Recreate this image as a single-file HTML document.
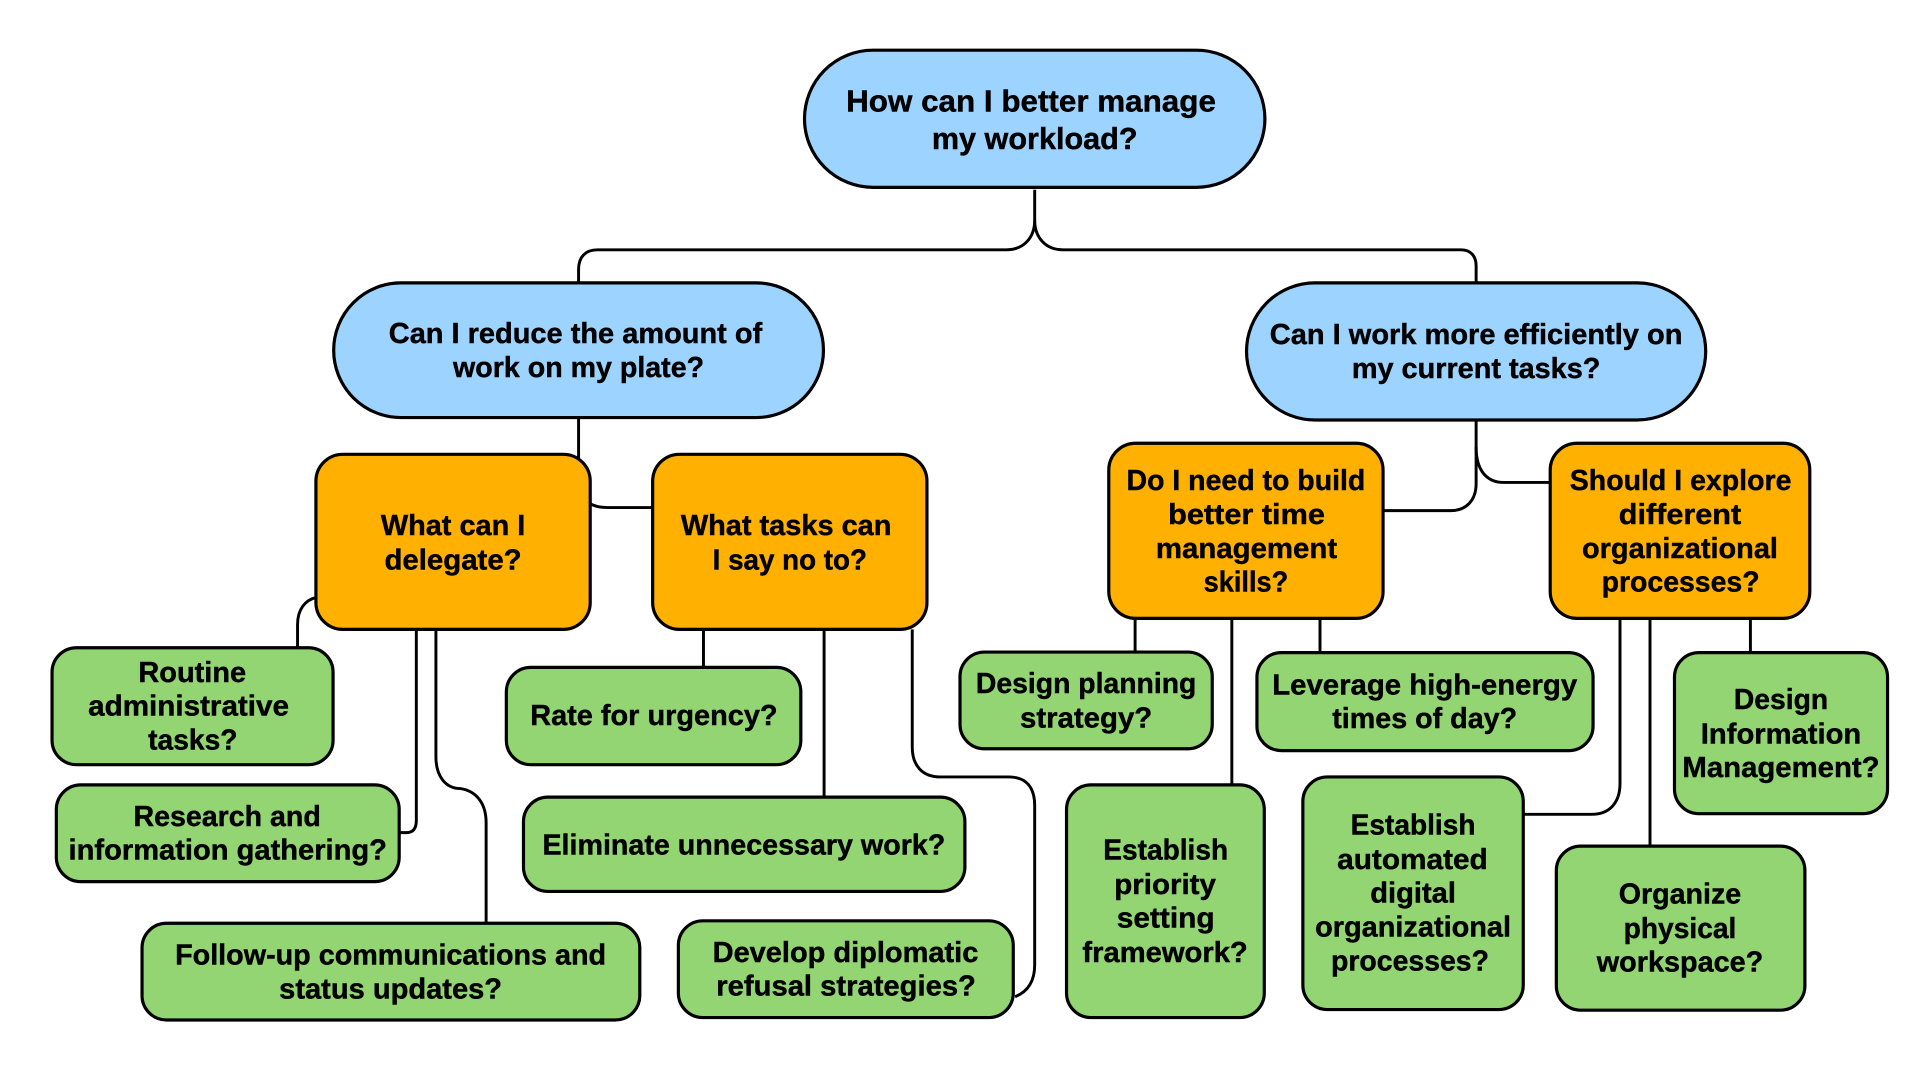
<!DOCTYPE html>
<html><head><meta charset="utf-8"><style>
html,body{margin:0;padding:0;background:#fff;width:1920px;height:1080px;overflow:hidden}
svg{display:block}
text{font-family:"Liberation Sans",sans-serif;font-weight:700;font-size:23.5px;fill:#000;stroke:#000;stroke-width:.35px;letter-spacing:0}
.l{fill:none;stroke:#000;stroke-width:2.4}
.b{fill:#9DD3FF;stroke:#000;stroke-width:2.6}
.o{fill:#FFB000;stroke:#000;stroke-width:2.6}
.g{fill:#93D572;stroke:#000;stroke-width:2.6}
</style></head><body>
<svg width="1920" height="1080" viewBox="0 0 1568 882" xmlns="http://www.w3.org/2000/svg">
<rect width="1568" height="882" fill="#fff"/>
<path class="l" d="M845,155V180C845,194 836,204 822,204H488C478,204 472.500,210 472.500,220V231"/>
<path class="l" d="M845,180C845,194 854,204 868,204H1193C1201,204 1205.500,209 1205.500,217V231"/>
<path class="l" d="M472.500,341V392C472.500,406 480,414.500 496,414.500H533"/>
<path class="l" d="M1205.500,343V395C1205.500,409 1197,417 1185,417H1130"/>
<path class="l" d="M1205.500,365C1205.500,384 1214,394 1228,394H1266"/>
<path class="l" d="M258,488C249,490 243,498 243,510V529"/>
<path class="l" d="M340,515V670C340,677 337,680 332,680H326"/>
<path class="l" d="M356,515V618C356,634 364,644 376,644C389,646 397,656 397,672V754"/>
<path class="l" d="M574.500,514V544"/>
<path class="l" d="M673,514V651"/>
<path class="l" d="M745,514V610C745,625 753,634.500 768,634.500H824C838,634.500 845,643 845,658V788C845,802 839,810 829,814"/>
<path class="l" d="M927,505V532"/>
<path class="l" d="M1006,505V641"/>
<path class="l" d="M1078,505V533"/>
<path class="l" d="M1323,505V640C1323,656 1314,665 1300,665H1244"/>
<path class="l" d="M1347.500,505V691"/>
<path class="l" d="M1429.500,505V533"/>

<rect class="b" x="657" y="41" width="376" height="112" rx="56"/>
<rect class="b" x="272.500" y="231" width="400" height="110" rx="55"/>
<rect class="b" x="1018" y="231" width="375" height="112" rx="56"/>
<rect class="o" x="258" y="371" width="224" height="143" rx="22"/>
<rect class="o" x="533" y="371" width="224" height="143" rx="22"/>
<rect class="o" x="905.500" y="362" width="224" height="143" rx="22"/>
<rect class="o" x="1266" y="362" width="212" height="143" rx="22"/>
<rect class="g" x="42.500" y="529" width="229.500" height="95.500" rx="20"/>
<rect class="g" x="46" y="641" width="280" height="79" rx="20"/>
<rect class="g" x="116" y="754" width="406.500" height="79" rx="20"/>
<rect class="g" x="413.500" y="545" width="240.500" height="79.500" rx="20"/>
<rect class="g" x="427.500" y="651" width="360.500" height="77" rx="20"/>
<rect class="g" x="554" y="752" width="273.500" height="79" rx="20"/>
<rect class="g" x="784" y="532.500" width="206" height="79" rx="20"/>
<rect class="g" x="1026.500" y="533" width="274.500" height="80" rx="20"/>
<rect class="g" x="1367.500" y="533" width="174" height="131.500" rx="20"/>
<rect class="g" x="871" y="641" width="161.500" height="190" rx="20"/>
<rect class="g" x="1064" y="634.500" width="180" height="190" rx="20"/>
<rect class="g" x="1271" y="691" width="203" height="134" rx="20"/>

<g>
<text x="691" y="91" style="font-size:25px" textLength="302" lengthAdjust="spacingAndGlyphs">How can I better manage</text>
<text x="761" y="121.500" style="font-size:25px" textLength="168" lengthAdjust="spacingAndGlyphs">my workload?</text>
<text x="317.500" y="280" textLength="305" lengthAdjust="spacingAndGlyphs">Can I reduce the amount of</text>
<text x="370" y="308" textLength="205" lengthAdjust="spacingAndGlyphs">work on my plate?</text>
<text x="1037" y="281" textLength="337" lengthAdjust="spacingAndGlyphs">Can I work more efficiently on</text>
<text x="1104" y="308.500" textLength="203" lengthAdjust="spacingAndGlyphs">my current tasks?</text>
<text x="311" y="437" textLength="118" lengthAdjust="spacingAndGlyphs">What can I</text>
<text x="314" y="465" textLength="112" lengthAdjust="spacingAndGlyphs">delegate?</text>
<text x="556" y="437" textLength="172" lengthAdjust="spacingAndGlyphs">What tasks can</text>
<text x="582" y="465" textLength="126" lengthAdjust="spacingAndGlyphs">I say no to?</text>
<text x="920" y="400" textLength="195" lengthAdjust="spacingAndGlyphs">Do I need to build</text>
<text x="954" y="428" textLength="128" lengthAdjust="spacingAndGlyphs">better time</text>
<text x="944" y="455.500" textLength="148" lengthAdjust="spacingAndGlyphs">management</text>
<text x="983" y="483" textLength="69" lengthAdjust="spacingAndGlyphs">skills?</text>
<text x="1282" y="400" textLength="181" lengthAdjust="spacingAndGlyphs">Should I explore</text>
<text x="1322" y="428" textLength="100" lengthAdjust="spacingAndGlyphs">different</text>
<text x="1292" y="455.500" textLength="160" lengthAdjust="spacingAndGlyphs">organizational</text>
<text x="1308" y="483" textLength="129" lengthAdjust="spacingAndGlyphs">processes?</text>
<text x="113" y="557" textLength="88" lengthAdjust="spacingAndGlyphs">Routine</text>
<text x="72" y="584.500" textLength="164" lengthAdjust="spacingAndGlyphs">administrative</text>
<text x="121" y="612" textLength="73" lengthAdjust="spacingAndGlyphs">tasks?</text>
<text x="109" y="674.500" textLength="153" lengthAdjust="spacingAndGlyphs">Research and</text>
<text x="56" y="702" textLength="260" lengthAdjust="spacingAndGlyphs">information gathering?</text>
<text x="143" y="787.500" textLength="352" lengthAdjust="spacingAndGlyphs">Follow-up communications and</text>
<text x="228" y="815.500" textLength="182" lengthAdjust="spacingAndGlyphs">status updates?</text>
<text x="433" y="592" textLength="202" lengthAdjust="spacingAndGlyphs">Rate for urgency?</text>
<text x="443" y="698" textLength="329" lengthAdjust="spacingAndGlyphs">Eliminate unnecessary work?</text>
<text x="582" y="785.500" textLength="217" lengthAdjust="spacingAndGlyphs">Develop diplomatic</text>
<text x="585" y="813" textLength="212" lengthAdjust="spacingAndGlyphs">refusal strategies?</text>
<text x="797" y="566" textLength="180" lengthAdjust="spacingAndGlyphs">Design planning</text>
<text x="833" y="594" textLength="108" lengthAdjust="spacingAndGlyphs">strategy?</text>
<text x="1039" y="567" textLength="249" lengthAdjust="spacingAndGlyphs">Leverage high-energy</text>
<text x="1088" y="594.500" textLength="151" lengthAdjust="spacingAndGlyphs">times of day?</text>
<text x="1416" y="579" textLength="77" lengthAdjust="spacingAndGlyphs">Design</text>
<text x="1389" y="607" textLength="131" lengthAdjust="spacingAndGlyphs">Information</text>
<text x="1374" y="634.500" textLength="161" lengthAdjust="spacingAndGlyphs">Management?</text>
<text x="901" y="702" textLength="102" lengthAdjust="spacingAndGlyphs">Establish</text>
<text x="910" y="730" textLength="83" lengthAdjust="spacingAndGlyphs">priority</text>
<text x="912" y="757.500" textLength="80" lengthAdjust="spacingAndGlyphs">setting</text>
<text x="884" y="785.500" textLength="135" lengthAdjust="spacingAndGlyphs">framework?</text>
<text x="1103" y="681.500" textLength="102" lengthAdjust="spacingAndGlyphs">Establish</text>
<text x="1092" y="709.500" textLength="123" lengthAdjust="spacingAndGlyphs">automated</text>
<text x="1119" y="737" textLength="70" lengthAdjust="spacingAndGlyphs">digital</text>
<text x="1074" y="765" textLength="160" lengthAdjust="spacingAndGlyphs">organizational</text>
<text x="1087" y="792.500" textLength="129" lengthAdjust="spacingAndGlyphs">processes?</text>
<text x="1322" y="738" textLength="100" lengthAdjust="spacingAndGlyphs">Organize</text>
<text x="1326" y="766" textLength="92" lengthAdjust="spacingAndGlyphs">physical</text>
<text x="1304" y="793.500" textLength="136" lengthAdjust="spacingAndGlyphs">workspace?</text>
</g>
</svg>
</body></html>
